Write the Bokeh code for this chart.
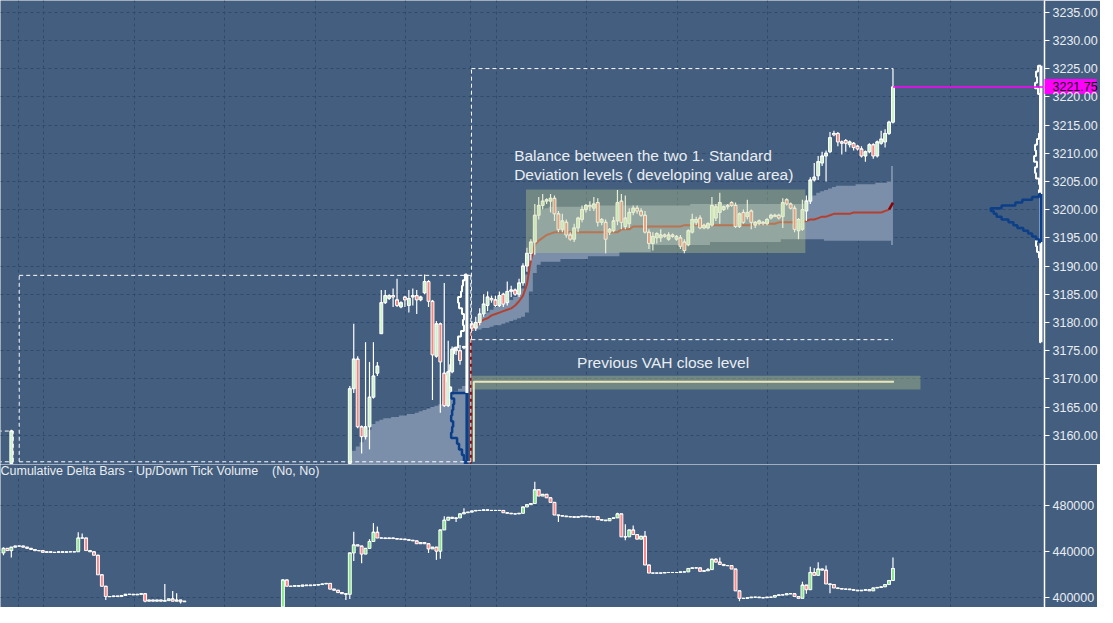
import numpy as np
from bokeh.plotting import figure
from bokeh.layouts import column
from bokeh.models import Range1d, FixedTicker, NumeralTickFormatter, Label, ColumnDataSource, LinearAxis
from bokeh.embed import file_html
from bokeh.resources import INLINE

# ---------------- data ----------------
# price bars (bar index, OHLC)
price_idx = [2] + list(range(88, 118)) + list(range(119, 227))
price_open = [3155,
    3155, 3168.25, 3173.5, 3161.5, 3159.75, 3161.5, 3166.75, 3171, 3178, 3183.5,
    3184.25, 3184.75, 3184, 3182.75, 3184.5, 3183, 3184.5, 3184.75, 3184, 3185.25,
    3187.25, 3183.75, 3174, 3179.75, 3171, 3165.25, 3171.25, 3175.25, 3175, 3175.5,
    3179.75, 3179, 3180, 3181.5, 3183, 3184.25, 3184, 3183, 3185, 3183.5,
    3185.5, 3185.75, 3185, 3187, 3190, 3192.25, 3194.25, 3199, 3200.75, 3201.5,
    3201.5, 3202, 3199.25, 3196.5, 3197.75, 3195.5, 3194.75, 3196.75, 3198.25, 3200,
    3200.75, 3200.25, 3201.25, 3197.75, 3197.75, 3196, 3196.25, 3198, 3201.5, 3197,
    3197.5, 3199.5, 3200.25, 3199.75, 3199, 3196, 3194, 3195, 3195, 3195.5,
    3194.75, 3195.5, 3194.75, 3195, 3194.25, 3193.75, 3196, 3197.75, 3198.5, 3196.75,
    3196.75, 3197.25, 3198.5, 3199.5, 3200, 3200.5, 3201.25, 3200.75, 3197, 3199.5,
    3198.75, 3199.75, 3197.25, 3197.5, 3197.75, 3197.5, 3198.5, 3199, 3199, 3198.75,
    3201.75, 3201, 3200.25, 3196.25, 3196.5, 3199.75, 3201.5, 3205.25, 3206, 3208.25,
    3209.5, 3210.25, 3213.5, 3213.5, 3212, 3212.25, 3211.5, 3211.75, 3211.25, 3210.75,
    3209.5, 3210.25, 3211.5, 3209.5, 3211.75, 3212, 3213.5, 3215.5]
price_high = [3161,
    3168.75, 3179.75, 3174, 3161.75, 3176.5, 3173, 3176.5, 3173, 3185.75, 3185.75,
    3185, 3186, 3187.75, 3183.75, 3184.75, 3185.75, 3186, 3185.75, 3184.75, 3188.5,
    3187.5, 3184, 3180.25, 3180, 3187, 3176.75, 3175.75, 3175.75, 3176, 3175.75,
    3180.25, 3181, 3182.5, 3185, 3185.5, 3184.75, 3184.75, 3185.5, 3185.25, 3187.25,
    3186.5, 3186, 3187.75, 3190.5, 3193.25, 3194.75, 3201, 3202.25, 3202.75, 3202,
    3202.75, 3202.5, 3199.75, 3199.25, 3198.25, 3196, 3197.5, 3198.75, 3200.75, 3201,
    3201.5, 3202.25, 3202, 3198.5, 3198.25, 3196.75, 3198.75, 3203.5, 3202.75, 3202.5,
    3200.25, 3200.75, 3200.75, 3200.25, 3199.75, 3196.5, 3196, 3196, 3196.5, 3195.75,
    3196, 3195.75, 3195.5, 3195.5, 3194.75, 3196.5, 3199.25, 3198.75, 3199, 3197.5,
    3197.75, 3202.25, 3201, 3203, 3200.75, 3201, 3201.5, 3201.25, 3199.5, 3200,
    3201.75, 3200, 3198, 3198.25, 3198, 3198.5, 3199.25, 3199.25, 3199.25, 3202,
    3202, 3201.25, 3200.75, 3198.5, 3201.75, 3202.5, 3205.75, 3208.25, 3209.5, 3210.25,
    3210.5, 3213.75, 3214, 3213.75, 3212.25, 3212.5, 3212.25, 3212, 3211.5, 3211.25,
    3210.5, 3211.75, 3211.75, 3212.25, 3214, 3214.25, 3215.75, 3225]
price_low = [3155,
    3155, 3167.5, 3161.25, 3156.75, 3159.25, 3157.5, 3166.5, 3170.5, 3178, 3183.25,
    3184, 3182.75, 3182.75, 3182.5, 3182.75, 3181.75, 3183, 3181.5, 3183.75, 3185,
    3182.75, 3166.25, 3173.75, 3164, 3165, 3165, 3171, 3174.25, 3172.5, 3175.25,
    3178.5, 3178.5, 3179.5, 3181, 3182, 3183.5, 3182.75, 3182.75, 3182.75, 3183,
    3184.5, 3184.75, 3184.5, 3186.5, 3189, 3191, 3192, 3198.25, 3200, 3201,
    3199.5, 3198, 3196, 3196, 3195, 3194.5, 3194.25, 3196, 3197.75, 3199.5,
    3199.75, 3199.75, 3197, 3197.25, 3192.25, 3195.5, 3196, 3197.25, 3196.5, 3196.5,
    3196.75, 3199, 3199.25, 3198.75, 3195.75, 3193, 3192.75, 3194, 3194.25, 3195,
    3194.5, 3195, 3194.5, 3193, 3192.25, 3193.5, 3195.75, 3197.25, 3196.5, 3196.5,
    3196.5, 3197, 3198, 3197.5, 3199.75, 3200, 3200.5, 3196.75, 3196.75, 3197.5,
    3198.25, 3196.5, 3196.75, 3197.25, 3197.25, 3197.25, 3198.25, 3198.75, 3198.25, 3196.75,
    3200.75, 3200, 3196, 3194.75, 3196.25, 3198, 3201, 3205, 3205.25, 3207.75,
    3205, 3210, 3213, 3211.25, 3209.75, 3210.25, 3211, 3210.5, 3210.5, 3209.25,
    3208.5, 3210, 3209, 3209.25, 3211.5, 3211, 3213.25, 3215.25]
price_close = [3160.75,
    3168.25, 3173.5, 3161.5, 3159.75, 3161.5, 3166.75, 3170.5, 3172.25, 3183.5, 3184.75,
    3184.75, 3184.5, 3183, 3183.5, 3184, 3184.25, 3184.75, 3184, 3184.5, 3187.25,
    3183.75, 3174.25, 3179.75, 3173, 3165.25, 3171.25, 3175.25, 3175, 3173.25, 3175.75,
    3179, 3180, 3181.5, 3183.25, 3184.5, 3184, 3183, 3184.75, 3183.25, 3185.5,
    3185.75, 3185, 3187, 3190, 3192.25, 3194.25, 3199, 3200.75, 3201.5, 3201.75,
    3202, 3199.25, 3196.5, 3198, 3195.5, 3194.75, 3196.75, 3198.5, 3200, 3200.75,
    3200.5, 3201, 3197.75, 3198.25, 3194.75, 3196.5, 3198, 3201.25, 3197.75, 3198.5,
    3199.5, 3200.25, 3199.75, 3199, 3196, 3194, 3195.25, 3195.75, 3195.5, 3195.25,
    3195.5, 3195.25, 3195.25, 3193.5, 3192.75, 3196.25, 3198.25, 3198.25, 3196.75, 3197.25,
    3197.5, 3200.75, 3200.5, 3201.25, 3200.5, 3200.75, 3200.75, 3197, 3199.25, 3197.75,
    3199.5, 3197.75, 3197.75, 3198, 3197.5, 3198.25, 3199, 3198.75, 3198.5, 3201.25,
    3201, 3200.25, 3196.5, 3198.25, 3200, 3201.5, 3205.25, 3205.75, 3208.5, 3209.5,
    3210, 3212.75, 3213.25, 3212, 3211.75, 3211.75, 3212, 3211, 3210.75, 3209.5,
    3210.25, 3211.5, 3209.5, 3212, 3212.5, 3213.5, 3215.5, 3221.75]

# VWAP and 1 std-dev band of the current session (bars 119..226)
sess2_idx = list(range(119, 227))
vwap = ([3178.75, 3179.25, 3180, 3180.5, 3180.75, 3181.25, 3181.5, 3181.75, 3182, 3182.25,
         3182.5, 3183, 3183.75, 3184.75, 3186.75, 3191, 3193.75, 3194.5, 3195, 3195.5, 3195.75]
        + [3196] * 17 + [3196.5] * 3 + [3197] * 13 + [3197.25] * 18 + [3197.5] * 6 + [3197.75] * 7
        + [3198, 3198.25, 3198.25, 3198.5, 3198.75, 3198.75, 3199] + [3199.25] * 5 + [3199.5] * 8
        + [3199.75, 3200, 3201.25])
band_hi = ([3179.5, 3180, 3180.5, 3181.25, 3181.75, 3182.25, 3182.75, 3183, 3183.25, 3183.75,
            3184, 3184.5, 3185, 3186, 3188.5, 3192, 3196.5, 3199, 3200, 3200.25]
           + [3200.5] * 11 + [3200.75] * 25 + [3201] * 29
           + [3201.75, 3202.25, 3202.5, 3203, 3203.25, 3203.5, 3203.75, 3204]
           + [3204.25] * 5 + [3204.5] * 5 + [3204.75] * 3 + [3205, 3207.75])
band_lo = ([3178.5, 3178.75, 3178.75, 3179, 3179, 3179.25, 3179.5, 3179.5, 3179.75, 3180,
            3180.25, 3180.5, 3180.75, 3181, 3181.75, 3185.5, 3188.75, 3190.25]
           + [3190.75] * 5 + [3191.25] * 7 + [3191.75] * 8 + [3192.5] * 8 + [3193.75] * 15
           + [3194.25] * 18 + [3194.75] * 11 + [3194.5] * 17 + [3193.75])
# previous session band (upper edge visible only, lower edge below the view)
sess1_idx = list(range(88, 119))
band1_hi = [3156.5, 3157.25, 3158, 3158.75, 3160, 3161, 3162, 3162.5, 3162.75, 3163, 3163,
            3163.25, 3163.25, 3163.5, 3163.5, 3163.75, 3163.75, 3164, 3164.25, 3164.5, 3164.75,
            3165, 3165.25, 3165.5, 3166, 3166.5, 3167.25, 3167.75, 3168.25, 3168.75, 3169.25]
band1_lo = [3150] * 31

# session range boxes
box_left = [-5, 4, 118.9]
box_right = [2.5, 118.75, 226]
box_top = [3160.75, 3188.35, 3225]
box_bottom = [3155.3, 3155.3, 3176.95]
box_closed = [True, True, False]

# annotation zones
balance_zone = dict(left=[132.75], right=[203.75], bottom=[3192.32], top=[3203.55])
vah_zone = dict(left=[118.9], right=[233], bottom=[3168.13], top=[3170.55])
vah_level = 3169.5
last_price = 3221.75

# volume profiles (levels, volume units)
prof2_levels = list(range(3225, 3176, -1))
prof2_vol = [3, 5, 4, 6, 3, 1, 1, 1, 1, 1, 1, 1, 2, 4, 6, 5, 7, 4, 6, 5,
             2, 1, 2, 1, 1, 1, 1, 1, 1, 1, 1, 5, 4, 2, 1, 1, 1, 1, 1, 1,
             1, 1, 1, 1, 1, 1, 1, 1, 1]
prof2_va_levels = [3202.5, 3202, 3201.5, 3201, 3200.5, 3200, 3199.5, 3199, 3198.5, 3198,
                   3197.5, 3197, 3196.5, 3196, 3195.5, 3195, 3194.5]
prof2_va_vol = [2, 9, 19, 26, 40, 51, 48, 45, 40, 33, 28, 24, 18, 13, 9, 5, 2]
prof1_levels = list(range(3188, 3167, -1))
prof1_vol = [2, 4, 5, 6, 9, 8, 5, 3, 4, 3, 6, 9, 9, 13, 15, 16, 17, 18, 20, 19, 16]
prof1_va_levels = list(range(3167, 3154, -1))
prof1_va_vol = [16, 13, 14, 15, 16, 14, 15, 16, 10, 8, 5, 3, 2]

# cumulative delta bars (thousands); open = previous close
delta_idx_a = list(range(0, 47))
delta_open_a = 439
delta_close_a = [443, 441, 444, 445, 445, 444, 443, 442, 441, 441,
                 439.5, 440, 439.5, 439.5, 440, 439.5, 440, 440, 440, 452,
                 452, 441, 440, 437, 420, 410, 401, 401, 401.5, 401,
                 402, 403, 403, 402.5, 403, 403.5, 397, 398, 397, 398,
                 397, 397.5, 399, 397, 398, 396.5, 397]
delta_idx_b = list(range(71, 227))
delta_open_b = 392
delta_close_b = ([415.5, 410, 410, 410.5, 410, 411, 410.5, 411, 411, 411.5, 412, 412.5, 407.5, 406.5, 404.5, 403.5]
                 + [403, 439, 446, 445, 438, 443, 449, 457, 452, 452, 451.5, 452, 451.5]
                 + [451, 451, 450.5, 450, 449.5, 447, 448, 447, 442.5, 444, 440.5, 459, 467.5, 470, 469, 469.5, 473, 474, 474.5]
                 + [475.5, 476, 476, 476.5, 476, 476, 476, 476, 474, 473.5, 473, 473, 473.5]
                 + [479, 481, 482, 494, 488.5, 490, 487, 483, 472, 471.5, 471]
                 + [470.5, 470.5, 470, 470.5, 471, 470.5, 470.5, 470.5]
                 + [468, 467.5, 467, 469, 469.5, 473, 453, 453, 459, 455, 451, 453.5, 428.5, 421.5]
                 + [421.5, 421.5, 421.5, 422, 422, 422, 422, 422.5, 422.5, 425.5, 426, 426, 423, 423.5, 424.5]
                 + [433.5, 431, 429, 428, 428, 425, 406, 399.5]
                 + [399.5, 400, 400.5, 400.5, 400, 400, 400.5, 400.5, 402, 402.5, 402.5, 403.5, 403.5, 401, 399.5]
                 + [411, 407, 422, 419.5, 425, 424, 412, 411.5]
                 + [408.5, 408, 407.5, 407.5, 407, 406.5, 406, 406.5, 407, 406, 408.5, 409, 409.5, 411.5, 415, 425.5])
delta_wick_hi = {0: 444, 19: 457, 20: 456, 41: 412, 43: 406, 44: 404,
                 71: 416, 89: 457.5, 93: 451, 94: 465, 95: 462, 112: 471, 117: 478, 135: 501,
                 156: 474, 158: 464, 160: 463, 163: 458, 179: 426, 180: 434, 181: 434.5, 182: 435,
                 203: 414, 205: 427, 206: 426, 207: 431, 209: 428, 226: 435}
delta_wick_lo = {0: 437, 2: 435, 26: 398, 36: 396, 45: 395,
                 71: 391, 87: 398, 88: 399, 89: 432, 91: 430, 108: 439, 110: 433, 111: 434,
                 115: 466, 141: 466, 158: 450, 187: 397, 204: 403.5, 210: 404}

price_ticks = list(range(3160, 3240, 5))
delta_ticks = [400000, 440000, 480000]
time_grid = [3.75, 10.25, 33.25, 56.25, 79.25, 102.25, 118.75, 125.25, 148.25, 171.25, 194, 217.25, 240.5]

assert len(price_open) == len(price_idx) == len(price_high) == len(price_low) == len(price_close)
assert len(vwap) == len(band_hi) == len(band_lo) == len(sess2_idx)
assert len(band1_hi) == len(sess1_idx)
assert len(delta_close_a) == len(delta_idx_a) and len(delta_close_b) == len(delta_idx_b)

# ---------------- style ----------------
BG = "#435e7e"
GRID = "#31496a"
TXT = "#e9edf2"
UP_P, DN_P = "#cdf3c6", "#f4877a"
UP_D, DN_D = "#86e886", "#ff8585"
BAND = "#7b8fab"
ZONE = "#c2d18c"
VWAP_C = "#b4412f"
BLUE = "#0d3f88"
MAGENTA = "#ff00ff"
FONT = "Liberation Sans"
FRAME_W = 1044

x_range = Range1d(-0.75, 264.5)


def make_fig(h, yr, ticks, fmt, minor=None):
    p = figure(frame_width=FRAME_W, frame_height=h, x_range=x_range, y_range=yr,
               y_axis_location="right", toolbar_location=None, output_backend="svg",
               min_border_left=0, min_border_top=0, min_border_bottom=0, min_border_right=53,
               background_fill_color=BG, border_fill_color=BG, outline_line_color=None)
    p.xaxis.visible = False
    p.xgrid.ticker = FixedTicker(ticks=time_grid)
    ax = p.yaxis[0]
    ax.ticker = FixedTicker(ticks=ticks, minor_ticks=minor or [])
    ax.formatter = NumeralTickFormatter(format=fmt)
    ax.axis_line_color = "white"
    ax.axis_line_width = 1.5
    ax.major_tick_line_color = "white"
    ax.major_tick_out = 5
    ax.major_tick_in = 0
    ax.minor_tick_line_color = None
    ax.major_label_text_color = TXT
    ax.major_label_text_font = FONT
    ax.major_label_text_font_size = "12.5px"
    ax.major_label_standoff = 3
    for g in (p.xgrid[0], p.ygrid[0]):
        g.grid_line_color = GRID
        g.grid_line_dash = "3 3"
        g.grid_line_width = 1
    return p


def candles(p, idx, o, h, l, c, up_col, dn_col, width=0.74):
    o, h, l, c = (np.asarray(a, dtype=float) for a in (o, h, l, c))
    top = np.maximum(o, c)
    bot = np.minimum(o, c)
    h = np.maximum(h, top)
    l = np.minimum(l, bot)
    fill = [up_col if cc >= oo else dn_col for oo, cc in zip(o, c)]
    x = np.asarray(idx, dtype=float)
    src = ColumnDataSource(dict(x=x, top=top, bot=bot, hi=h, lo=l, fill=fill,
                                xl=x - width / 2, xr=x + width / 2))
    p.segment(x0="x", y0="lo", x1="x", y1="hi", source=src, line_color="white", line_width=1.2)
    p.vbar(x="x", top="top", bottom="bot", width=width, fill_color="fill",
           line_color="white", line_width=1, source=src)
    p.segment(x0="xl", y0="top", x1="xr", y1="top", source=src, line_color="white", line_width=1)


def profile_path(anchor, levels, vols, step, scale=0.25):
    xs = [anchor]
    ys = [levels[0] + step / 2]
    for L, v in zip(levels, vols):
        xs += [anchor - v * scale] * 2
        ys += [L + step / 2, L - step / 2]
    xs.append(anchor)
    ys.append(levels[-1] - step / 2)
    return xs, ys


# ---------------- price panel ----------------
top = make_fig(464, Range1d(3154.82, 3237.07), price_ticks, "0.00", minor=[last_price])
# last-price marker on the axis: magenta box drawn as an outward minor tick, black text from a label-only axis
pax = top.yaxis[0]
pax.minor_tick_line_color = MAGENTA
pax.minor_tick_line_width = 15
pax.minor_tick_out = 0
pax.minor_tick_in = -52
lp_axis = LinearAxis(ticker=FixedTicker(ticks=[last_price]), formatter=NumeralTickFormatter(format="0.00"),
                     axis_line_color=None, major_tick_line_color=None, minor_tick_line_color=None,
                     major_tick_out=0, major_tick_in=0, major_label_standoff=-48,
                     major_label_text_color="black", major_label_text_font=FONT,
                     major_label_text_font_size="12.5px")
top.add_layout(lp_axis, "right")

top.varea_step(x=sess1_idx, y1=band1_lo, y2=band1_hi, step_mode="center", fill_color=BAND)
top.varea_step(x=sess2_idx, y1=band_lo, y2=band_hi, step_mode="center", fill_color=BAND)

# vwap
top.segment(x0=[118.75], y0=[3155.0], x1=[118.75], y1=[vwap[0]], line_color="#8b1010", line_width=2)
top.line(sess2_idx[:-1], vwap[:-1], line_color=VWAP_C, line_width=2)
top.line(sess2_idx[-2:], vwap[-2:], line_color="#8b0000", line_width=2.5)

# profiles
a1 = 117.75
xs, ys = profile_path(a1, prof1_levels, prof1_vol, 1.0)
top.line(xs, ys, line_color="white", line_width=2)
xs, ys = profile_path(a1, prof1_va_levels, prof1_va_vol, 1.0)
top.line(xs, ys, line_color=BLUE, line_width=2.5)
top.segment(x0=[a1], y0=[prof1_levels[-1] - 0.5], x1=[a1], y1=[prof1_levels[0] + 0.5], line_color="white", line_width=3)
top.segment(x0=[a1], y0=[prof1_va_levels[-1] - 0.5], x1=[a1], y1=[prof1_va_levels[0] + 0.5], line_color=BLUE, line_width=3)

a2 = 263.6
xs, ys = profile_path(a2, prof2_levels, prof2_vol, 1.0)
top.line(xs, ys, line_color="white", line_width=2)
top.segment(x0=[a2], y0=[prof2_levels[-1] - 0.5], x1=[a2], y1=[prof2_levels[0] + 0.5], line_color="white", line_width=3)
xs, ys = profile_path(a2, prof2_va_levels, prof2_va_vol, 0.5)
top.line(xs, ys, line_color=BLUE, line_width=2.5)
top.segment(x0=[a2], y0=[prof2_va_levels[-1] - 0.25], x1=[a2], y1=[prof2_va_levels[0] + 0.25], line_color=BLUE, line_width=3)

candles(top, price_idx, price_open, price_high, price_low, price_close, UP_P, DN_P)

# session boxes
bx = dict(line_color="white", line_width=1, line_dash="4 3")
top.segment(x0=box_left, y0=box_top, x1=box_right, y1=box_top, **bx)
top.segment(x0=box_left, y0=box_bottom, x1=box_left, y1=box_top, **bx)
top.segment(x0=box_left, y0=box_bottom, x1=box_right, y1=box_bottom, **bx)
cl = [i for i, f in enumerate(box_closed) if f]
top.segment(x0=[box_right[i] for i in cl], y0=[box_bottom[i] for i in cl],
            x1=[box_right[i] for i in cl], y1=[box_top[i] for i in cl], **bx)

# zones
top.quad(source=ColumnDataSource(balance_zone), left="left", right="right", bottom="bottom", top="top",
         fill_color=ZONE, fill_alpha=0.36, line_color=None)
top.quad(source=ColumnDataSource(vah_zone), left="left", right="right", bottom="bottom", top="top",
         fill_color=ZONE, fill_alpha=0.36, line_color=None)
top.line([119.5, 119.5, 226.25], [3155.3, vah_level, vah_level], line_color="#ebe7bd", line_width=2)

# last price line
top.segment(x0=[226], y0=[last_price], x1=[264.5], y1=[last_price], line_color=MAGENTA, line_width=1.5)

top.add_layout(Label(x=129.75, y=3209.6, text="Balance between the two 1. Standard", text_baseline="middle",
                     text_font=FONT, text_font_size="15.5px", text_color=TXT))
top.add_layout(Label(x=129.75, y=3206.3, text="Deviation levels ( developing value area)", text_baseline="middle",
                     text_font=FONT, text_font_size="15.5px", text_color=TXT))
top.add_layout(Label(x=145.75, y=3172.96, text="Previous VAH close level", text_baseline="middle",
                     text_font=FONT, text_font_size="15.5px", text_color=TXT))

# ---------------- delta panel ----------------
bot = make_fig(143, Range1d(391534, 515980), delta_ticks, "0")


def delta_ohlc(idx, first_open, closes):
    opens = [first_open] + closes[:-1]
    highs = [max(o, c, delta_wick_hi.get(i, -1e9)) for i, o, c in zip(idx, opens, closes)]
    lows = [min(o, c, delta_wick_lo.get(i, 1e9)) for i, o, c in zip(idx, opens, closes)]
    k = 1000.0
    return ([o * k for o in opens], [h * k for h in highs], [l * k for l in lows], [c * k for c in closes])


for idx, fo, cls in ((delta_idx_a, delta_open_a, delta_close_a), (delta_idx_b, delta_open_b, delta_close_b)):
    o, h, l, c = delta_ohlc(idx, fo, cls)
    candles(bot, idx, o, h, l, c, UP_D, DN_D)

bot.add_layout(Label(x=-0.75, y=510050,
                     text="Cumulative Delta Bars - Up/Down Tick Volume \u00a0\u00a0\u00a0(No, No)",
                     text_baseline="middle", text_font=FONT, text_font_size="12.5px", text_color=TXT))

layout = column(top, bot, spacing=0)
open("out.html", "w").write(file_html(layout, INLINE))
